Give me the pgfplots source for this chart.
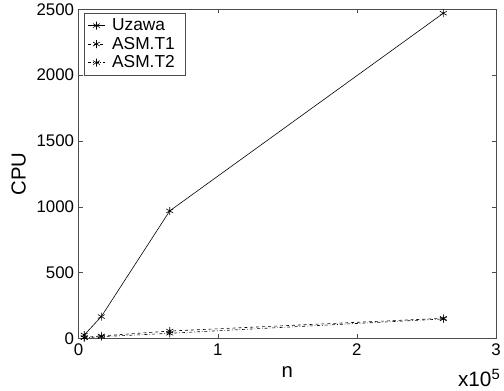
\documentclass[border=0pt]{standalone}
\usepackage{pgfplots}
\pgfplotsset{compat=1.18}
\usepackage{fontspec}
\setmainfont{Liberation Sans}
\begin{document}
\begin{tikzpicture}
\begin{axis}[
  scale only axis,
  width=420bp, height=331bp,
  xmin=0, xmax=3, ymin=0, ymax=2500,
  xtick={0,1,2,3}, ytick={0,500,1000,1500,2000,2500},
  tick align=inside,
  major tick length=4bp,
  axis line style={black!70},
  tick style={black!70},
  /pgf/number format/assume math mode=true,
  ticklabel style={font=\fontsize{17}{19}\selectfont},
  xticklabel style={yshift=-2bp},
  yticklabel style={/pgf/number format/1000 sep={}, xshift=-1bp},
  xlabel={n}, ylabel={CPU},
  label style={font=\fontsize{20.5}{22}\selectfont},
  xlabel style={yshift=-4bp},
  ylabel style={yshift=4bp},
  legend style={at={(rel axis cs:0.012,0.988)}, anchor=north west, font=\fontsize{17.5}{19}\selectfont, draw=black!70, inner xsep=4bp, inner ysep=3bp, row sep=0bp, nodes={inner xsep=7bp, inner ysep=2.5bp}},
  legend image post style={mark size=4bp},
  legend cell align=left,
  every axis plot/.append style={black, line width=0.6pt},
  clip=false,
]
\addplot[solid, mark=asterisk, mark size=4bp] coordinates {(0.04096,25) (0.16384,165) (0.65536,968) (2.62144,2470)};
\addlegendentry{Uzawa}
\addplot[dashed, mark=asterisk, mark size=4bp, mark options={solid}] coordinates {(0.04096,6) (0.16384,18) (0.65536,55) (2.62144,152)};
\addlegendentry{ASM.T1}
\addplot[dash dot, mark=asterisk, mark size=4bp, mark options={solid}] coordinates {(0.04096,4) (0.16384,12) (0.65536,38) (2.62144,147)};
\addlegendentry{ASM.T2}
\node[anchor=base east, font=\fontsize{21}{23}\selectfont, inner sep=0pt] at (424bp,-48bp) {x10\raisebox{0.55ex}{\fontsize{15}{17}\selectfont 5}};
\end{axis}
\path[use as bounding box] (-79bp,-53bp) rectangle (425bp,340bp);
\end{tikzpicture}
\end{document}
